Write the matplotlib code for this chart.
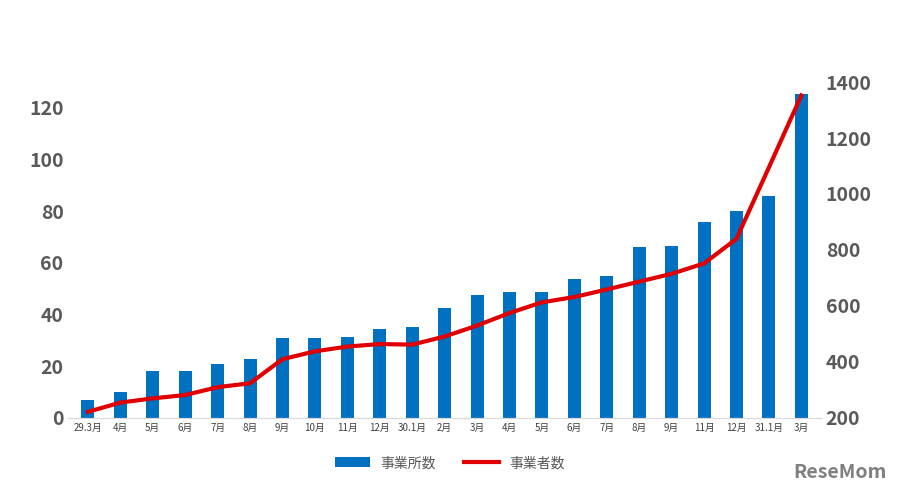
import matplotlib.pyplot as plt
import numpy as np

plt.rcParams['font.family'] = ['Noto Sans CJK JP', 'DejaVu Sans']

months = ['29.3月', '4月', '5月', '6月', '7月', '8月', '9月', '10月', '11月', '12月',
          '30.1月', '2月', '3月', '4月', '5月', '6月', '7月', '8月', '9月', '11月',
          '12月', '31.1月', '3月']
offices = [7, 10, 18, 18, 21, 23, 31, 31, 31.5, 34.5, 35.3, 42.6, 47.6, 48.6, 48.8,
           53.7, 54.8, 66.3, 66.6, 76, 80.1, 85.8, 125.4]
workers = [222, 255, 270, 282, 310, 324, 410, 438, 455, 464, 462, 491, 530, 575, 613,
           632, 659, 687, 715, 752, 840, 1095, 1352]

fig = plt.figure(figsize=(9, 4.97), dpi=100)
ax = fig.add_axes([0.076, 0.159, 0.836, 0.676])
x = np.arange(len(months))
bars = ax.bar(x, offices, width=0.4, color='#0070C0', label='事業所数')
ax.set_ylim(0, 130)
ax.set_yticks(range(0, 121, 20))
ax.set_xlim(-0.6, len(months) - 0.4)
ax.set_xticks(x)
ax.set_xticklabels(months, fontsize=7, color='#404040')
ax.tick_params(axis='y', labelsize=14, colors='#595959', length=0)
ax.tick_params(axis='x', length=0)
for lab in ax.get_yticklabels():
    lab.set_fontweight('bold')

ax2 = ax.twinx()
line, = ax2.plot(x, workers, color='#E00000', lw=3, label='事業者数')
ax2.set_ylim(200, 1400)
ax2.set_yticks(range(200, 1401, 200))
ax2.tick_params(axis='y', labelsize=14, colors='#595959', length=0)
for lab in ax2.get_yticklabels():
    lab.set_fontweight('bold')

for a in (ax, ax2):
    for s in ('top', 'left', 'right'):
        a.spines[s].set_visible(False)
    a.spines['bottom'].set_color('#D9D9D9')

fig.legend([bars, line], ['事業所数', '事業者数'], loc='center', bbox_to_anchor=(0.5, 0.068),
           ncol=2, frameon=False, fontsize=10, labelcolor='#595959', handlelength=2.5)
fig.text(0.985, 0.03, 'ReseMom', ha='right', va='bottom', fontsize=14,
         fontweight='bold', color='#7F7F7F')
fig.savefig('out.png')
